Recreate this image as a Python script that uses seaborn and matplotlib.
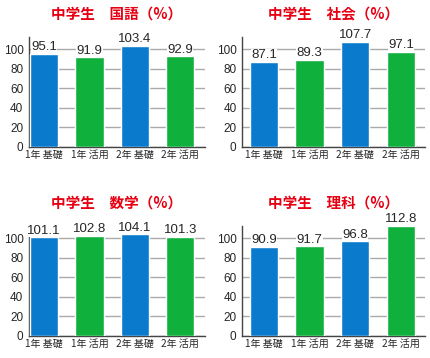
import matplotlib
matplotlib.use('Agg')
import matplotlib.pyplot as plt
import seaborn as sns
import pandas as pd

# 中学生 教科別の結果（%）
labels = ['1年 基礎', '1年 活用', '2年 基礎', '2年 活用']
kokugo = [95.1, 91.9, 103.4, 92.9]
shakai = [87.1, 89.3, 107.7, 97.1]
sugaku = [101.1, 102.8, 104.1, 101.3]
rika = [90.9, 91.7, 96.8, 112.8]
titles = ['中学生　国語（%）', '中学生　社会（%）', '中学生　数学（%）', '中学生　理科（%）']

blue = '#0A7ACC'
green = '#0FB03C'
colors = [blue, green, blue, green]

sns.set_style('white')
plt.rcParams['font.family'] = ['Noto Sans CJK JP', 'DejaVu Sans']
num_font = ['Liberation Sans', 'DejaVu Sans']

fig = plt.figure(figsize=(4.3, 3.58), dpi=100)

# 4つのパネルの位置（図全体に対する割合）
pos = [
    [0.0674, 0.5894, 0.409, 0.307],
    [0.5628, 0.5894, 0.4256, 0.307],
    [0.0674, 0.0615, 0.409, 0.307],
    [0.5628, 0.0615, 0.4256, 0.307],
]
xlims = [(-0.33, 3.54), (-0.48, 3.53), (-0.33, 3.54), (-0.48, 3.53)]

for i, vals in enumerate([kokugo, shakai, sugaku, rika]):
    ax = fig.add_axes(pos[i])
    df = pd.DataFrame({'label': labels, 'value': vals})
    sns.barplot(data=df, x='label', y='value', hue='label', palette=colors,
                width=0.62, legend=False, saturation=1, ax=ax, zorder=3)
    ax.set_axisbelow(True)
    ax.yaxis.grid(True, color='#aaaaaa', linewidth=1)
    ax.set_ylim(0, 112.5)
    ax.set_xlim(*xlims[i])
    ax.set_yticks([0, 20, 40, 60, 80, 100])
    ax.set_xlabel('')
    ax.set_ylabel('')
    for s in ['top', 'right']:
        ax.spines[s].set_visible(False)
    for s in ['left', 'bottom']:
        ax.spines[s].set_color('#444444')
        ax.spines[s].set_linewidth(1)
    ax.tick_params(axis='y', length=3, color='#aaaaaa', pad=1, labelsize=8.5)
    ax.tick_params(axis='x', length=0, pad=2, labelsize=7.2)
    for t in ax.get_yticklabels():
        t.set_family(num_font)
    for c in ax.containers:
        txts = ax.bar_label(c, fmt='%.1f', padding=0.5, fontsize=9.5,
                            family=num_font, zorder=4)
        for t in txts:
            t.set_bbox(dict(facecolor='white', edgecolor='none', pad=0.2))
    ax.set_title(titles[i], color='#E60012', fontsize=10.5, fontweight='bold', pad=13)

fig.savefig('out.png', dpi=100, facecolor='white')
